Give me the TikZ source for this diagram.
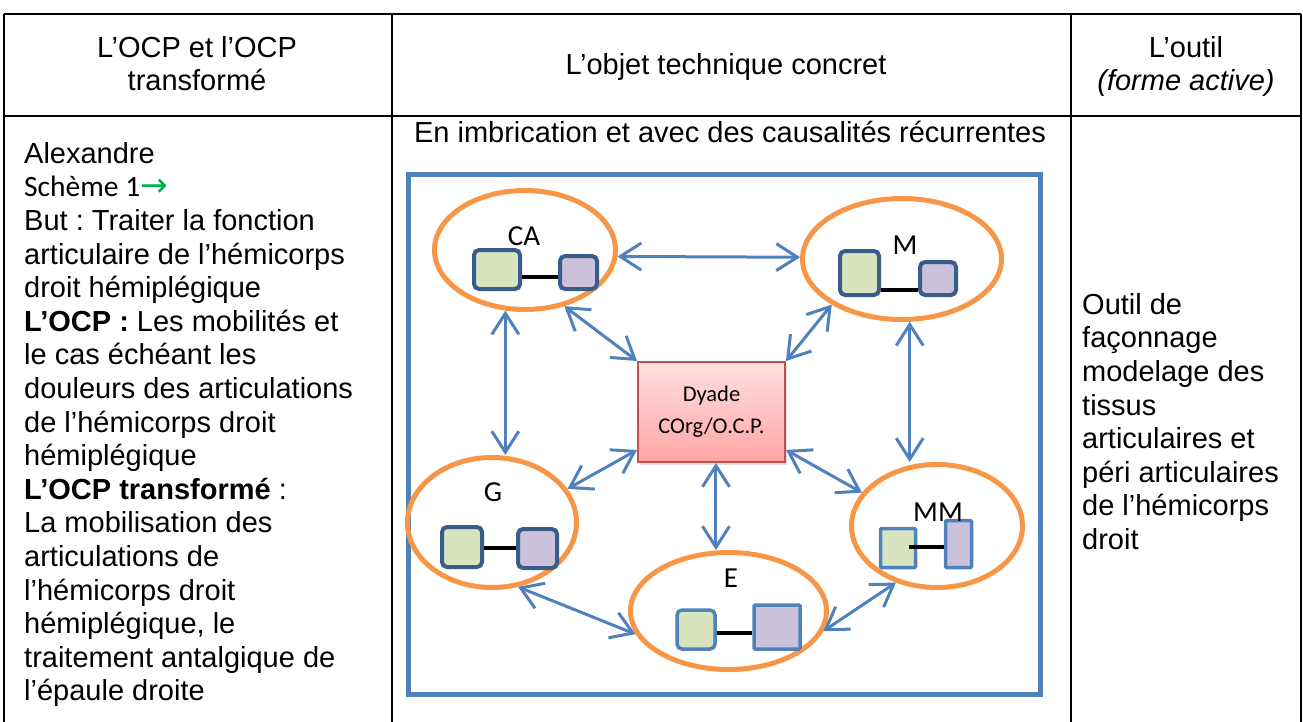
\documentclass[tikz,border=0pt]{standalone}
\usepackage{fontspec}
\setmainfont{Liberation Sans}
\newfontfamily\calib{Carlito}
\newfontfamily\djv{DejaVu Sans}
\usetikzlibrary{shapes.geometric,arrows.meta,calc,shadows}
\definecolor{accblue}{HTML}{4F81BD}
\definecolor{darkblue}{HTML}{385D8A}
\definecolor{accorange}{HTML}{F79646}
\definecolor{lgreen}{HTML}{D7E4BD}
\definecolor{lpurple}{HTML}{CCC1DA}
\definecolor{boxred}{HTML}{C0504D}
\definecolor{pinktop}{HTML}{FFE0E0}
\definecolor{pinkbot}{HTML}{FFA5A5}
\definecolor{arrgreen}{HTML}{00B050}
\frenchspacing
\tikzset{
  tab/.style={draw=black, line width=2pt},
  body/.style={font=\frenchspacing\fontsize{29}{33.6}\selectfont, inner sep=0pt},
  oval/.style={ellipse, draw=accorange, line width=5pt, inner sep=0pt},
  sqd/.style={draw=darkblue, line width=4pt, rounded corners=5pt, inner sep=0pt},
  sql/.style={draw=accblue, line width=3.5pt, rounded corners=2pt, inner sep=0pt},
  gfill/.style={fill=lgreen},
  pfill/.style={fill=lpurple},
  link/.style={draw=black, line width=4pt},
  lab/.style={font=\calib\fontsize{29}{32}\selectfont, inner sep=0pt},
  conn/.style={draw=accblue, line width=3pt,
    {Straight Barb[length=21pt,width=27pt]}-{Straight Barb[length=21pt,width=27pt]}},
}
\begin{document}
\begin{tikzpicture}[x=1pt,y=-1pt]
\useasboundingbox (0,0) rectangle (1303,722);
% table
\draw[tab] (4,14) -- (1301,14);
\draw[tab] (4,116) -- (1301,116);
\draw[tab] (4,14) -- (4,722);
\draw[tab] (392,14) -- (392,722);
\draw[tab] (1071,14) -- (1071,722);
\draw[tab] (1301,14) -- (1301,722);
% headers
\node[body, align=center, anchor=north] (h1) at (197,36) {L’OCP et l’OCP\\transformé};
\node[body, anchor=base] (h2) at (726,75) {L’objet technique concret};
\node[body, align=center, anchor=north] (h3) at (1186,36) {L’outil\\\textit{(forme active)}};
% left column
\node[body, align=left, anchor=north west] (left) at (24,142) {Alexandre\\
{\calib\fontsize{29.5}{33.6}\selectfont Schème 1}{\djv\fontsize{33}{33.6}\selectfont\color{arrgreen}→}\\
But : Traiter la fonction\\
articulaire de l’hémicorps\\
droit hémiplégique\\
\textbf{L’OCP :} Les mobilités et\\
le cas échéant les\\
douleurs des articulations\\
de l’hémicorps droit\\
hémiplégique\\
\textbf{L’OCP transformé} :\\
La mobilisation des\\
articulations de\\
l’hémicorps droit\\
hémiplégique, le\\
traitement antalgique de\\
l’épaule droite};
% right column
\node[body, align=left, anchor=north west] (right) at (1082,293) {Outil de\\
façonnage\\
modelage des\\
tissus\\
articulaires et\\
péri articulaires\\
de l’hémicorps\\
droit};
% middle
\node[body, anchor=base] (sub) at (730,143) {En imbrication et avec des causalités récurrentes};
\draw[draw=accblue, line width=5pt] (408.5,174.5) rectangle (1040.5,694.5);
% ellipses
\node[oval, minimum width=181, minimum height=119] (CA) at (525,250) {};
\node[oval, minimum width=199, minimum height=121] (M) at (902,259) {};
\node[oval, minimum width=169, minimum height=130] (G) at (492,522.5) {};
\node[oval, minimum width=171, minimum height=123] (MM) at (937,526) {};
\node[oval, minimum width=196, minimum height=117] (E) at (728.5,611) {};
% central box
\node[draw=boxred, line width=2pt, top color=pinktop, bottom color=pinkbot,
      minimum width=147, minimum height=100, inner sep=0pt,
      drop shadow={shadow xshift=2pt, shadow yshift=-3pt, opacity=0.25},
      align=center, font=\calib\fontsize{22.5}{32}\selectfont] (box) at (711.5,412) {Dyade\\COrg/O.C.P.};
% CA
\node[sqd, gfill, minimum width=46, minimum height=39] (CAg) at (497,269.5) {};
\node[sqd, pfill, minimum width=37, minimum height=33] (CAp) at (578.5,272.5) {};
\draw[link] (CAg.east |- 0,277) -- (CAp.west |- 0,277);
\node[lab] (CAl) at (524,236) {CA};
% M
\node[sqd, gfill, minimum width=39, minimum height=44] (Mg) at (859.5,273) {};
\node[sqd, pfill, minimum width=36, minimum height=33] (Mp) at (938,278.5) {};
\draw[link] (Mg.east |- 0,290) -- (Mp.west |- 0,290);
\node[lab] (Ml) at (905,245) {M};
% G
\node[sqd, gfill, minimum width=40, minimum height=40] (Gg) at (462,547) {};
\node[sqd, pfill, minimum width=39, minimum height=39] (Gp) at (537.5,548.5) {};
\draw[link] (Gg.east |- 0,548) -- (Gp.west |- 0,548);
\node[lab] (Gl) at (493,492) {G};
% MM
\node[sql, gfill, rounded corners=1pt, minimum width=35, minimum height=39] (MMg) at (898,548) {};
\node[sql, pfill, rounded corners=1pt, minimum width=26, minimum height=47] (MMp) at (958.5,544) {};
\draw[link] ($(MMg.east |- 0,547)+(-8,0)$) -- (MMp.west |- 0,547);
\node[lab] (MMl) at (938,512) {MM};
% E
\node[sql, gfill, rounded corners=5pt, minimum width=38, minimum height=39] (Eg) at (696,629.5) {};
\node[sql, pfill, rounded corners=1pt, minimum width=46, minimum height=44] (Ep) at (777,627) {};
\draw[link] (Eg.east |- 0,633) -- (Ep.west |- 0,633);
\node[lab] (El) at (731,578) {E};
% connectors
\draw[conn] (CA.-4) -- (M.179);
\draw[conn] (CA.-55) -- (box.north west);
\draw[conn] (M.-147) -- (box.north east);
\draw[conn] (CA.-108) -- (CA.-108 |- G.north);
\draw[conn] (M.-83) -- (M.-83 |- MM.north);
\draw[conn] (box.-153) -- (G.24);
\draw[conn] (box.-27) -- (MM.156);
\draw[conn] (box.-85) -- (box.-85 |- E.north);
\draw[conn] (G.-68) -- (E.-166);
\draw[conn] (MM.-126) -- (E.-12);
\end{tikzpicture}
\end{document}
